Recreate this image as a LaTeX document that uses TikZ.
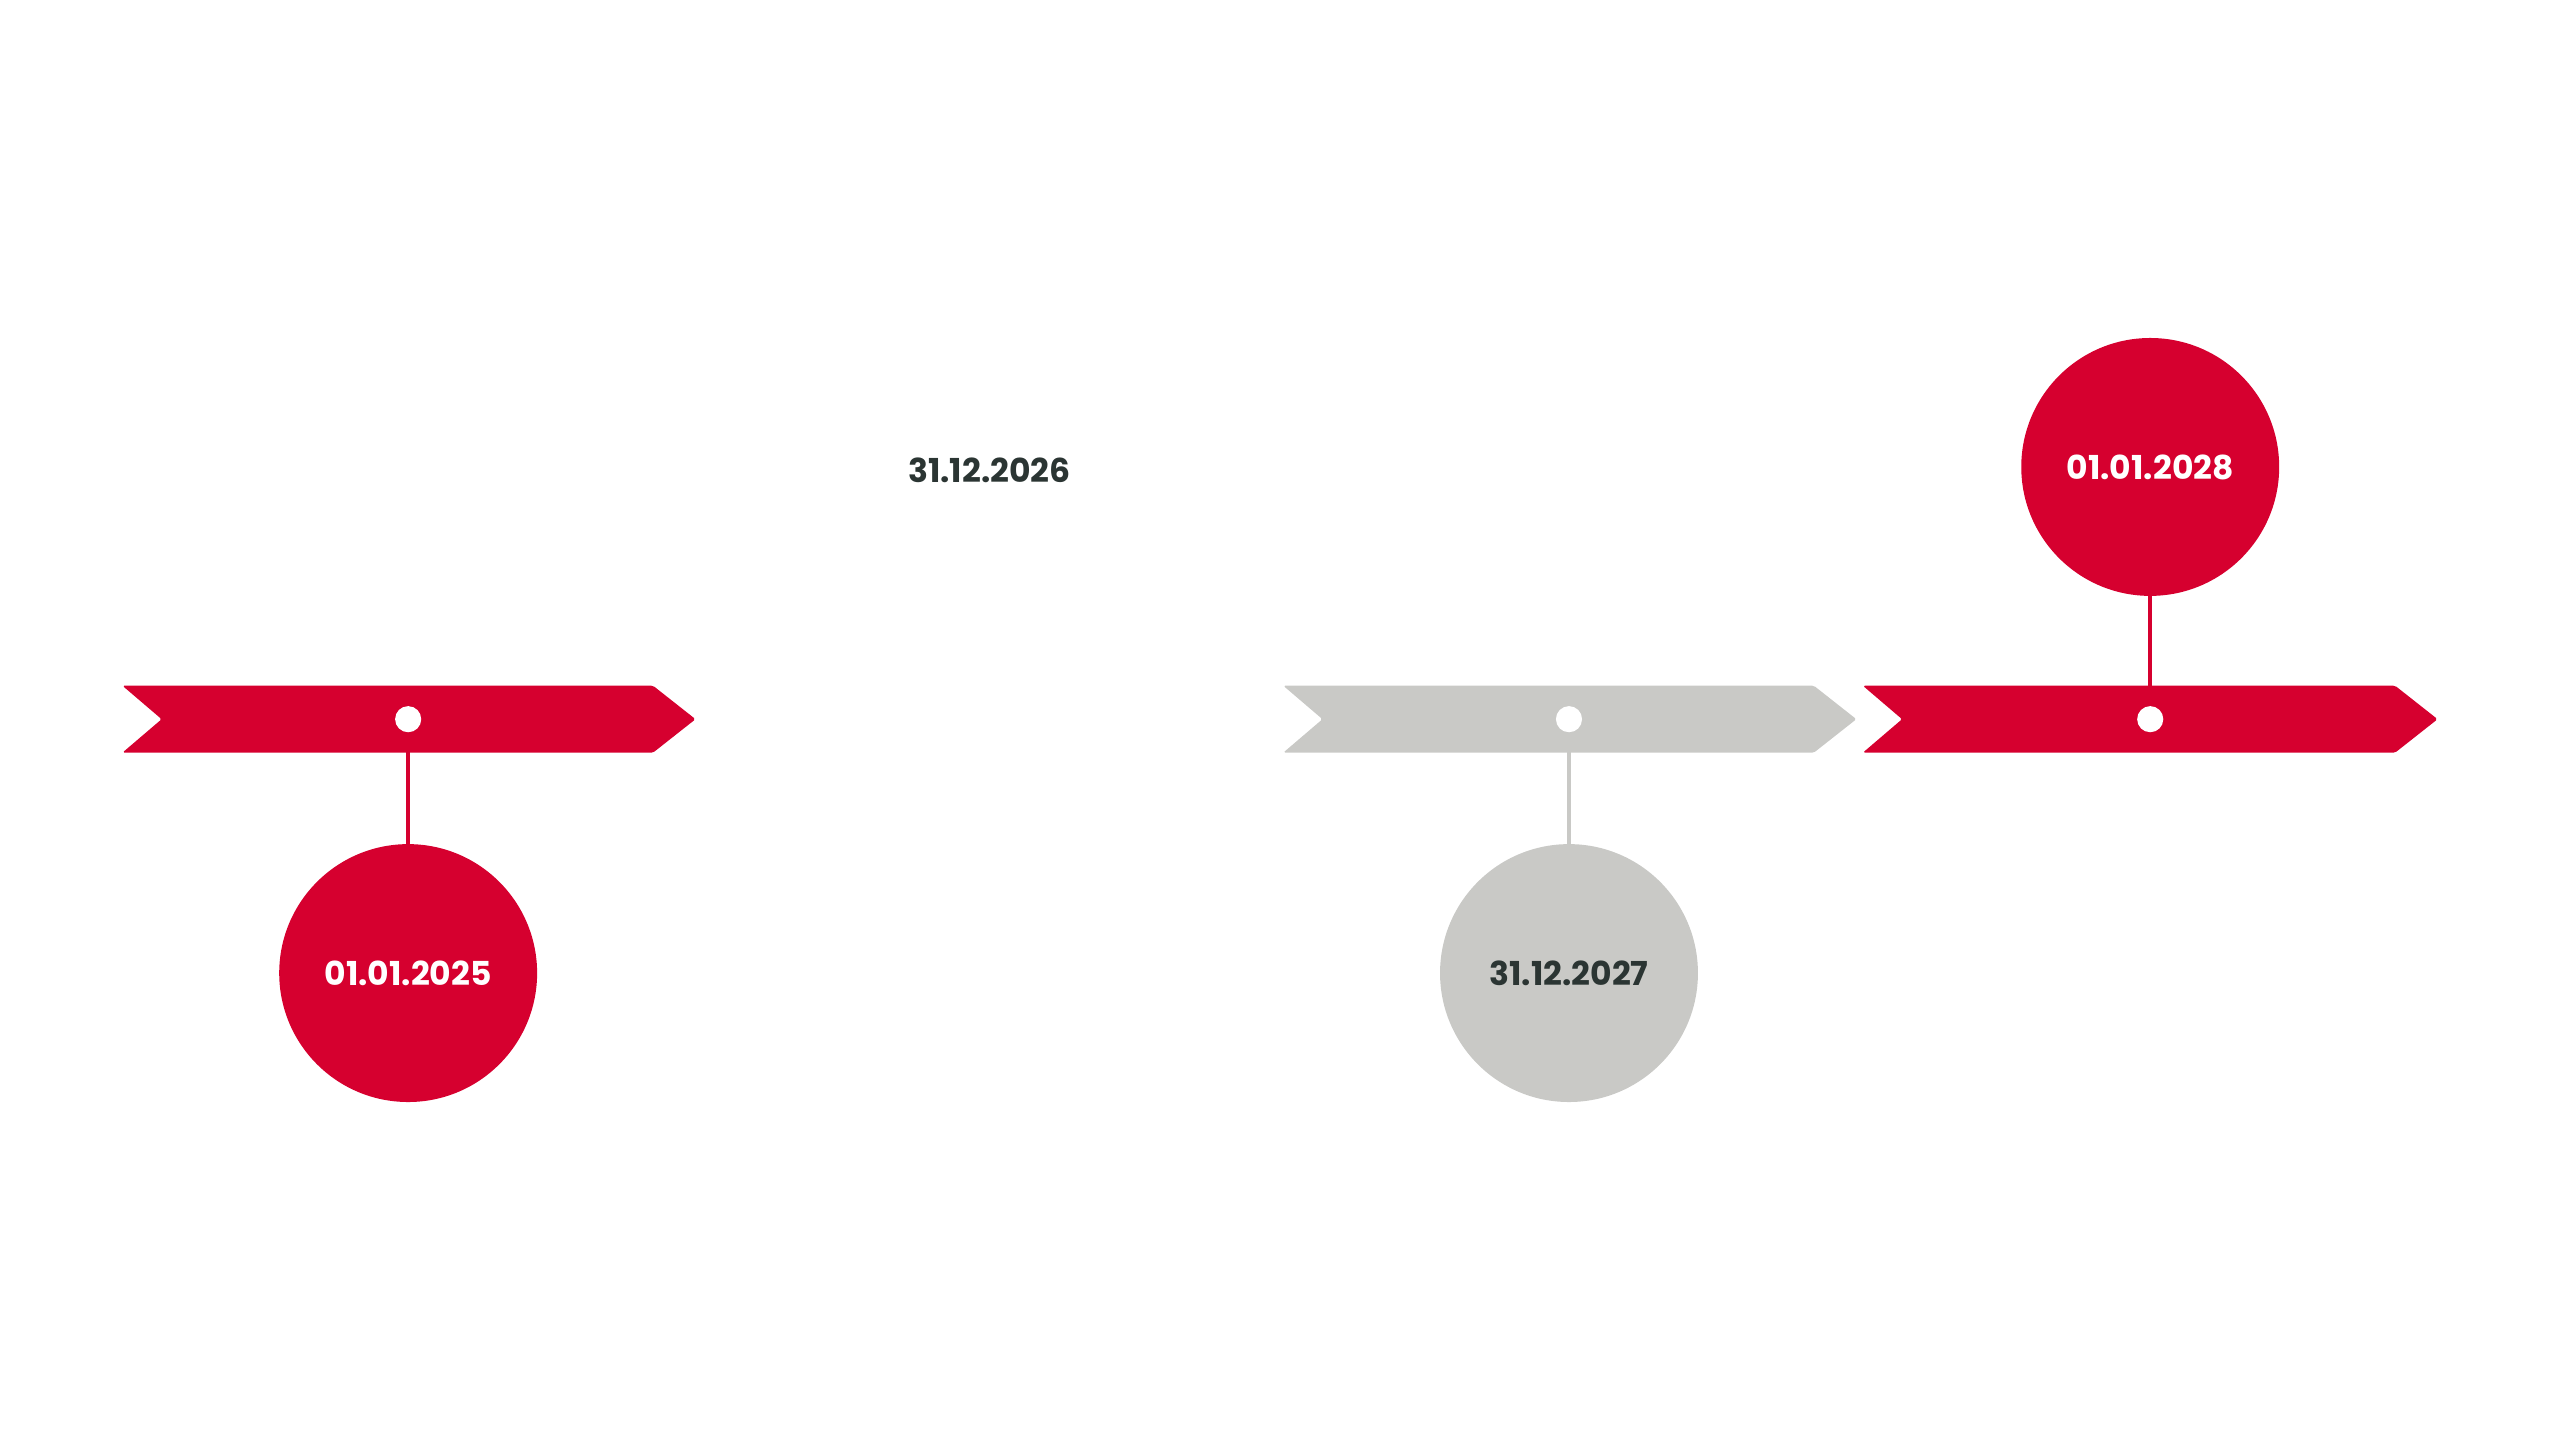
\documentclass[tikz,border=0pt]{standalone}
\usepackage{fontspec}
\setmainfont{Poppins}
\definecolor{tred}{HTML}{D6002F}
\definecolor{tgray}{HTML}{C9C9C6}
\definecolor{tdark}{HTML}{2B3533}
\begin{document}
\begin{tikzpicture}[x=0.02cm,y=-0.02cm,
  banner/.style={fill=#1,draw=none,rounded corners=0.6pt},
  dot/.style={circle,fill=white,minimum size=0.32cm,inner sep=0pt},
  date/.style={circle,fill=#1,minimum size=3.16cm,inner sep=0pt,font=\bfseries\fontsize{11.5}{13}\selectfont},
  stem/.style={draw=#1,line width=1.3pt}]
\useasboundingbox (0,0) rectangle (1568,882);
% banners
\fill[banner=tred] (75,420) -- (400,420) -- (426,440.5) -- (400,461) -- (75,461) -- (99,440.5) -- cycle;
\fill[banner=tgray] (786,420) -- (1111,420) -- (1137,440.5) -- (1111,461) -- (786,461) -- (810,440.5) -- cycle;
\fill[banner=tred] (1141,420) -- (1467,420) -- (1493,440.5) -- (1467,461) -- (1141,461) -- (1165,440.5) -- cycle;
% circles
\node[date=tred,text=white] (c1) at (250,596) {01.01.2025};
\node[date=tgray,text=tdark] (c2) at (961,596) {31.12.2027};
\node[date=tred,text=white] (c3) at (1317,286) {01.01.2028};
\node[font=\bfseries\fontsize{11.5}{13}\selectfont,text=tdark] (t) at (606,288) {31.12.2026};
% dots
\node[dot] (d1) at (250,440.5) {};
\node[dot] (d2) at (961,440.5) {};
\node[dot] (d3) at (1317,440.5) {};
% stems
\draw[stem=tred] (d1.south) -- (c1.north);
\draw[stem=tgray] (d2.south) -- (c2.north);
\draw[stem=tred] (c3.south) -- (d3.north);
\end{tikzpicture}
\end{document}
